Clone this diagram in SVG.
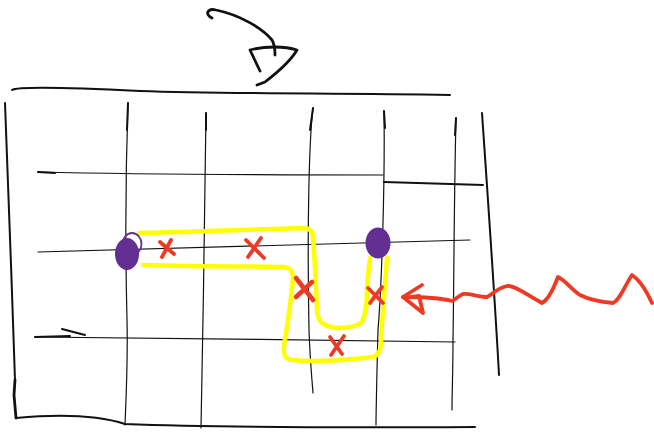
<svg xmlns="http://www.w3.org/2000/svg" width="654" height="433" viewBox="0 0 654 433">
  <style>
    .ink { fill: none; stroke: #111; stroke-linecap: round; stroke-linejoin: round; }
    .thin { stroke-width: 1.2; }
    .mid { stroke-width: 2; }
    .bold { stroke-width: 2.8; }
    .path { fill: none; stroke: #ffff00; stroke-width: 4.5; stroke-linecap: round; stroke-linejoin: round; }
    .red { fill: none; stroke: #ee3a24; stroke-width: 3.8; stroke-linecap: round; stroke-linejoin: round; }
    .dot { fill: #632f93; }
  </style>
  <rect width="654" height="433" fill="#ffffff"/>

  <!-- rotation arrow above the grid -->
  <g id="rotate-arrow">
    <path class="ink bold" d="M212,18 C204,14 208,8 216,10 C240,15 262,28 272,40 C275,45 275,50 275,55"/>
    <path class="ink bold" d="M260,71 L250,50 C265,46 285,46 297,50 C290,62 278,72 265,82 L257,85"/>
  </g>

  <!-- grid -->
  <g id="grid">
    <!-- outer frame -->
    <path class="ink mid" d="M12,90 C18,86 80,88 140,91 C230,94 330,93 450,95"/>
    <path class="ink mid" d="M5,103 C8,180 12,290 15,380"/>
    <path class="ink bold" d="M15,380 L14,395 L16,418"/>
    <path class="ink mid" d="M16,418 C60,414 100,416 125,424 C200,427 300,428 475,427"/>
    <path class="ink mid" d="M482,113 C488,200 495,300 499,375"/>
    <!-- vertical lines -->
    <path class="ink thin" d="M128,103 C126,160 125,240 127,320 C128,360 126,400 125,425"/>
    <path class="ink thin" d="M206,113 C205,200 203,330 201,428"/>
    <path class="ink thin" d="M313,108 C309,140 307,230 309,330 C310,360 312,380 313,393"/>
    <path class="ink thin" d="M384,111 C385,180 382,280 378,330 C377,370 376,410 376,425"/>
    <path class="ink thin" d="M456,118 C454,200 454,280 453,340 C453,370 452,395 452,410"/>
    <!-- heavier pen starts -->
    <path class="ink mid" d="M128,103 L127,130"/>
    <path class="ink mid" d="M206,113 L206,130"/>
    <path class="ink mid" d="M313,108 L310,130"/>
    <path class="ink mid" d="M384,111 L385,128"/>
    <path class="ink mid" d="M456,118 L455,135"/>
    <!-- horizontal lines -->
    <path class="ink thin" d="M38,172 C120,174 260,175 383,175"/>
    <path class="ink mid" d="M38,172 L55,173"/>
    <path class="ink mid" d="M384,182 C420,183 450,184 483,185"/>
    <path class="ink thin" d="M38,252 C150,250 300,244 470,240"/>
    <path class="ink thin" d="M35,337 C150,338 330,340 455,342"/>
    <path class="ink mid" d="M35,337 L70,336"/>
    <path class="ink mid" d="M62,329 L85,335"/>
  </g>

  <!-- route between the two points -->
  <g id="route">
    <path class="path" d="M139,233 C200,232 260,229 305,228 C311,229 313,233 313,237 C315,260 316,290 317,310 C318,320 320,326 337,328 C350,328 358,326 362,322 C367,312 367,300 367,290 C368,275 369,265 370,258"/>
    <path class="path" d="M143,265 C200,267 250,266 283,267 C290,268 292,270 293,276 C293,282 292,290 290,305 C288,320 286,335 284,345 C283,355 285,359 292,360 C310,362 340,361 373,357 C379,355 381,350 381,340 C382,320 384,300 387,258"/>
  </g>

  <!-- blocked cells -->
  <g id="blocked">
    <path class="red" d="M160,242 L174,254 M171,240 L162,257"/>
    <path class="red" d="M246,240 L264,258 M261,238 L248,257"/>
    <path class="red" style="stroke-width:4.6" d="M296,278 L313,300 M312,282 L296,297"/>
    <path class="red" d="M368,288 L383,303 M382,287 L370,303"/>
    <path class="red" d="M330,337 L342,354 M344,336 L331,355"/>
  </g>

  <!-- start and end points -->
  <g id="start-node">
    <ellipse class="dot" cx="127" cy="254" rx="12" ry="16"/>
    <ellipse cx="132" cy="244" rx="9.5" ry="11" fill="none" stroke="#632f93" stroke-width="1.8"/>
  </g>
  <g id="end-node">
    <ellipse class="dot" cx="378" cy="243" rx="12.5" ry="15.5"/>
  </g>

  <!-- incoming wavy arrow -->
  <g id="wave-arrow">
    <path class="red" d="M652,303 C646,290 640,280 632,275 C625,285 620,300 613,303 C600,302 590,300 580,295 C572,290 565,280 558,277 C553,290 548,300 542,303 C530,297 515,285 507,286 C497,288 492,295 487,297 C478,297 470,293 463,294 C458,296 455,300 452,301 C440,298 420,297 403,297"/>
    <path class="red" d="M422,285 L403,297 L423,313 L419,296 L412,297"/>
  </g>
</svg>
